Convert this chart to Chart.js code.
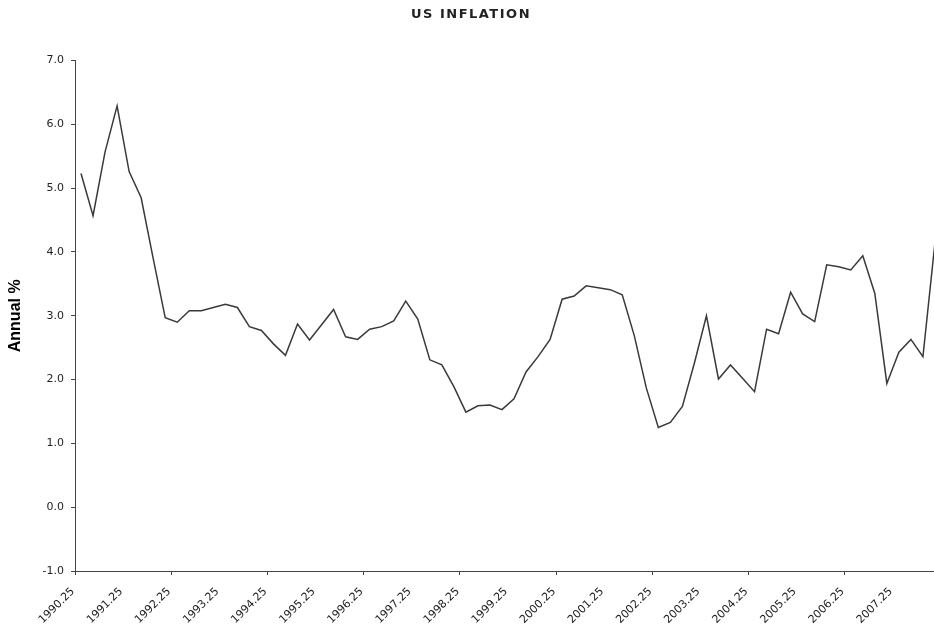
<!DOCTYPE html>
<html>
<head>
<meta charset="utf-8">
<script src="https://cdn.jsdelivr.net/npm/chart.js@4"></script>
<style>
  body { margin: 0; background: #fff; }
  #wrap { width: 934px; height: 633px; }
</style>
</head>
<body>
<div id="wrap"><canvas id="chart-inflation" width="934" height="633"></canvas></div>
<script>
// quarters (year + fraction), one per data point
const quarters = [
  1990.25, 1990.5, 1990.75, 1991.0, 1991.25, 1991.5, 1991.75, 1992.0,
  1992.25, 1992.5, 1992.75, 1993.0, 1993.25, 1993.5, 1993.75, 1994.0,
  1994.25, 1994.5, 1994.75, 1995.0, 1995.25, 1995.5, 1995.75, 1996.0,
  1996.25, 1996.5, 1996.75, 1997.0, 1997.25, 1997.5, 1997.75, 1998.0,
  1998.25, 1998.5, 1998.75, 1999.0, 1999.25, 1999.5, 1999.75, 2000.0,
  2000.25, 2000.5, 2000.75, 2001.0, 2001.25, 2001.5, 2001.75, 2002.0,
  2002.25, 2002.5, 2002.75, 2003.0, 2003.25, 2003.5, 2003.75, 2004.0,
  2004.25, 2004.5, 2004.75, 2005.0, 2005.25, 2005.5, 2005.75, 2006.0,
  2006.25, 2006.5, 2006.75, 2007.0, 2007.25, 2007.5, 2007.75, 2008.0
];

// annual inflation %
const inflation = [
  5.23, 4.57, 5.57, 6.29, 5.26, 4.85, 3.90, 2.97,
  2.90, 3.08, 3.08, 3.13, 3.18, 3.13, 2.83, 2.77,
  2.56, 2.38, 2.87, 2.62, 2.86, 3.10, 2.67, 2.63,
  2.79, 2.83, 2.92, 3.23, 2.95, 2.31, 2.23, 1.89,
  1.49, 1.59, 1.60, 1.53, 1.70, 2.12, 2.36, 2.63,
  3.26, 3.31, 3.47, 3.44, 3.41, 3.33, 2.69, 1.87,
  1.25, 1.33, 1.58, 2.26, 3.00, 2.01, 2.23, 2.02,
  1.81, 2.79, 2.72, 3.37, 3.03, 2.91, 3.80, 3.77,
  3.72, 3.94, 3.35, 1.94, 2.43, 2.63, 2.36, 4.15
];

// labels shown on the x axis
const xTickLabels = [
  '1990.25', '1991.25', '1992.25', '1993.25', '1994.25', '1995.25',
  '1996.25', '1997.25', '1998.25', '1999.25', '2000.25', '2001.25',
  '2002.25', '2003.25', '2004.25', '2005.25', '2006.25', '2007.25'
];

const yMin = -1;
const yMax = 7;

// small tick marks on x axis sit between categories, every 2 years
const xMarks = [];
for (let k = 0; k <= 8; k++) xMarks.push(1990.125 + 2 * k);

const labelValues = xTickLabels.map(s => parseFloat(s));

const points = quarters.map((q, i) => ({ x: q, y: inflation[i] }));

const axisColor = '#444';
const textColor = '#222';

const ctx = document.getElementById('chart-inflation');
const chart = new Chart(ctx, {
  type: 'line',
  data: {
    datasets: [{
      label: 'US inflation',
      data: points,
      borderColor: '#3a3a3a',
      borderWidth: 1.5,
      pointRadius: 0,
      tension: 0,
      fill: false
    }]
  },
  options: {
    responsive: false,
    animation: false,
    layout: { padding: 0 },
    plugins: {
      legend: { display: false },
      tooltip: { enabled: false },
      title: {
        display: true,
        text: 'US INFLATION',
        color: textColor,
        font: { family: 'DejaVu Sans', size: 13, weight: 'bold' },
        padding: { top: 7, bottom: 38 }
      }
    },
    scales: {
      x: {
        type: 'linear',
        min: 1990.125,
        max: 2007.98,
        afterBuildTicks: scale => {
          const all = xMarks.concat(labelValues).sort((a, b) => a - b);
          scale.ticks = all.map(v => ({ value: v }));
        },
        afterFit: scale => { scale.height = 62; },
        ticks: {
          autoSkip: false,
          minRotation: 45,
          maxRotation: 45,
          color: textColor,
          padding: 10,
          labelOffset: -8,
          font: { family: 'DejaVu Sans', size: 11 },
          callback: value => {
            const idx = labelValues.indexOf(value);
            return idx >= 0 ? xTickLabels[idx] : '';
          }
        },
        grid: {
          drawOnChartArea: false,
          tickLength: 4,
          tickColor: c => (c.tick && xMarks.includes(c.tick.value)) ? axisColor : 'rgba(0,0,0,0)'
        },
        border: { color: axisColor, width: 1 }
      },
      y: {
        min: yMin,
        max: yMax,
        afterFit: scale => { scale.width = 75; },
        ticks: {
          stepSize: 1,
          color: textColor,
          padding: 7,
          font: { family: 'DejaVu Sans', size: 11 },
          callback: v => v.toFixed(1)
        },
        grid: {
          drawOnChartArea: false,
          tickLength: 4,
          tickColor: axisColor
        },
        border: { color: axisColor, width: 1 },
        title: {
          display: true,
          text: 'Annual %',
          color: '#000',
          font: { family: 'Liberation Sans', size: 16, weight: 'bold' },
          padding: { top: 6, bottom: 0 }
        }
      }
    }
  }
});

// title in the original is slightly letter-spaced (and sits a bit to the right)
const origTitleDraw = chart.titleBlock.draw;
chart.titleBlock.draw = function () {
  const c = this.ctx;
  c.save();
  c.letterSpacing = '1.5px';
  c.translate(4, 0);
  origTitleDraw.call(this);
  c.restore();
};
chart.draw();
</script>
</body>
</html>
